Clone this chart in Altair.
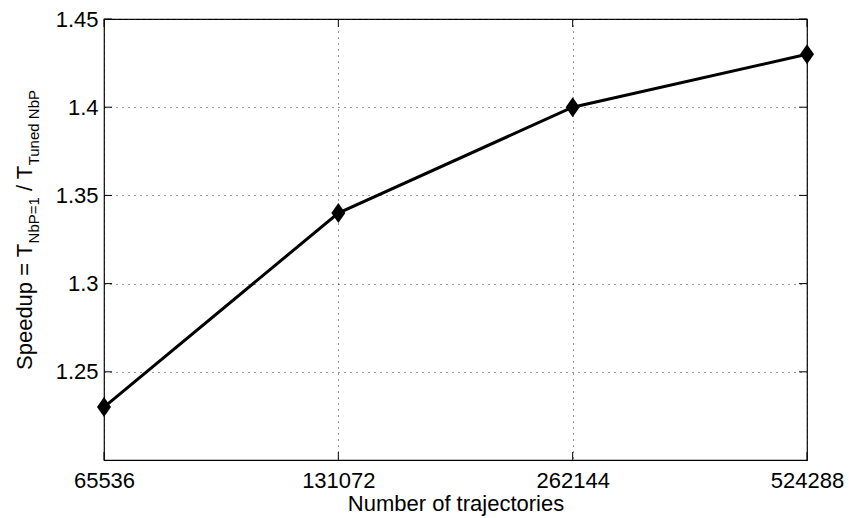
import altair as alt
import pandas as pd

# ---- data ----
trajectories = [65536, 131072, 262144, 524288]
speedup = [1.23, 1.34, 1.40, 1.43]
x_ticks = [65536, 131072, 262144, 524288]
y_ticks = [1.25, 1.30, 1.35, 1.40, 1.45]

df = pd.DataFrame({"n": trajectories, "s": speedup})
xt = pd.DataFrame({"n": x_ticks})
yt = pd.DataFrame({"s": y_ticks})
one = pd.DataFrame({"k": [0]})

W, H = 703, 441
FONT = "Liberation Sans"
FS = 22
SUB = 15

xscale = alt.Scale(type="log", base=2, domain=[65536, 524288], nice=False)
yscale = alt.Scale(domain=[1.2, 1.45], nice=False, zero=False)

grid_kw = dict(grid=True, gridDash=[1, 5], gridColor="#333", gridWidth=1,
               ticks=False, tickSize=0, domain=False,
               labelFont=FONT, labelFontSize=FS, labelColor="black",
               labelFlush=False, labelOverlap=False)

x_axis = alt.Axis(values=x_ticks, format="d", title="Number of trajectories",
                  labelPadding=10, titleFont=FONT, titleFontSize=FS,
                  titleFontWeight="normal", titleColor="black",
                  titleBaseline="alphabetic", titleY=50, **grid_kw)
y_axis = alt.Axis(values=y_ticks, format="~g", title=None, labelPadding=6,
                  **grid_kw)

X = alt.X("n:Q", scale=xscale, axis=x_axis)
Y = alt.Y("s:Q", scale=yscale, axis=y_axis)

line = alt.Chart(df).mark_line(color="black", strokeWidth=3).encode(x=X, y=Y)
points = alt.Chart(df).mark_point(
    shape="M0,-1L0.7,0L0,1L-0.7,0Z", size=400, filled=True,
    color="black", opacity=1, strokeWidth=0,
).encode(x=X, y=Y)

TL = 8
ytick_l = alt.Chart(yt).mark_rule(color="black", strokeWidth=1).encode(
    y=Y, x=alt.value(0), x2=alt.value(TL))
ytick_r = alt.Chart(yt).mark_rule(color="black", strokeWidth=1).encode(
    y=Y, x=alt.value(W - TL), x2=alt.value(W))
xtick_b = alt.Chart(xt).mark_rule(color="black", strokeWidth=1).encode(
    x=X, y=alt.value(H - TL), y2=alt.value(H))
xtick_t = alt.Chart(xt).mark_rule(color="black", strokeWidth=1).encode(
    x=X, y=alt.value(0), y2=alt.value(TL))


def piece(txt, size, dx, dy):
    return alt.Chart(one).mark_text(
        text=txt, font=FONT, fontSize=size, angle=270, align="left",
        baseline="alphabetic", dx=dx, dy=dy, color="black",
    ).encode(x=alt.value(-72), y=alt.value(351))


w_main = 5.754 * FS
w_sub1 = 3.085 * SUB
w_space = 0.278 * FS
w_slash = 1.167 * FS
title_parts = [
    piece("Speedup = T", FS, 0, 0),
    piece("NbP=1", SUB, w_main, 7),
    piece("/ T", FS, w_main + w_sub1 + w_space, 0),
    piece("Tuned NbP", SUB, w_main + w_sub1 + w_space + w_slash, 7),
]

chart = alt.layer(
    line, points, ytick_l, ytick_r, xtick_b, xtick_t, *title_parts
).properties(
    width=W, height=H,
    padding={"left": 104, "top": 19, "right": 42, "bottom": 58},
    autosize=alt.AutoSizeParams(type="none"),
    background="white",
).configure_view(stroke="black", strokeWidth=1.2)

chart.save("out.html", embed_options={"renderer": "svg", "actions": False})
